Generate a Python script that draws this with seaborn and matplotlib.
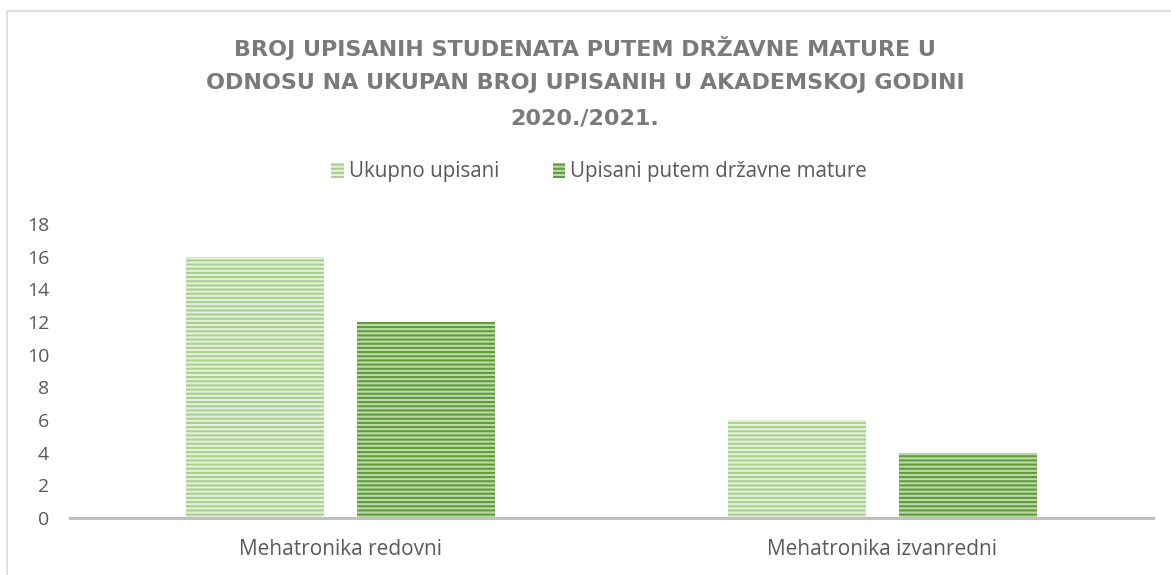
import matplotlib.pyplot as plt
import matplotlib.patches as mpatches
import pandas as pd
import seaborn as sns

kategorije = ["Mehatronika redovni", "Mehatronika izvanredni"]
ukupno_upisani = [16, 6]
upisani_matura = [12, 4]
serije = ["Ukupno upisani", "Upisani putem državne mature"]
y_ticks = list(range(0, 20, 2))
naslov = [
    "BROJ UPISANIH STUDENATA PUTEM DRŽAVNE MATURE U",
    "ODNOSU NA UKUPAN BROJ UPISANIH U AKADEMSKOJ GODINI",
    "2020./2021.",
]

df = pd.DataFrame({
    "kategorija": kategorije * 2,
    "serija": [serije[0]] * len(kategorije) + [serije[1]] * len(kategorije),
    "broj": ukupno_upisani + upisani_matura,
})

sns.set_theme(style="white")
plt.rcParams["font.family"] = ["Open Sans", "DejaVu Sans"]
plt.rcParams["hatch.linewidth"] = 1.5

W, H = 1171, 575
fig = plt.figure(figsize=(W / 100, H / 100), dpi=100)
ax = fig.add_axes([70 / W, 57 / H, 1083 / W, 294 / H])

sns.barplot(data=df, x="kategorija", y="broj", hue="serija",
            width=0.633, gap=0.195, ax=ax, legend=False)

# svijetla / tamna zelena s vodoravnim prugama
stil = [("#e4f0dc", "#a9d18e"), ("#bddaa8", "#5e9c3c")]
for cont, (fc, hc) in zip(ax.containers, stil):
    for bar in cont:
        bar.set_facecolor(fc)
        bar.set_edgecolor(hc)
        bar.set_hatch("----")
        bar.set_linewidth(0)

handles = [mpatches.Patch(facecolor=fc, edgecolor=hc, hatch="----", linewidth=0, label=s)
           for s, (fc, hc) in zip(serije, stil)]
fig.legend(handles=handles, loc="center", bbox_to_anchor=(599 / W, 1 - 172 / H),
           ncol=2, frameon=False, fontsize=14.8, handlelength=0.6, handleheight=0.75,
           handletextpad=0.25, columnspacing=2.6, labelcolor="#595959")

ax.set_ylim(0, 18)
ax.set_yticks(y_ticks)
ax.set_xlabel("")
ax.set_ylabel("")
for s in ["left", "top", "right"]:
    ax.spines[s].set_visible(False)
ax.spines["bottom"].set_color("#bfbfbf")
ax.spines["bottom"].set_linewidth(2.2)
ax.tick_params(axis="y", length=0, colors="#595959", labelsize=14, pad=15)
ax.tick_params(axis="x", length=0, colors="#595959", labelsize=15, pad=15)

for i, red in enumerate(naslov):
    fig.text(585 / W, 1 - (48 + i * 35) / H, red, ha="center", va="center",
             fontsize=16, fontweight="bold", color="#7a7a7a",
             family=["DejaVu Sans"])

fig.add_artist(mpatches.Rectangle((7 / W, -0.1), 1.2, 0.1 + 1 - 11 / H,
                                  transform=fig.transFigure, fill=False,
                                  edgecolor="#d9d9d9", linewidth=1.2))

fig.savefig("out.png", dpi=100)
